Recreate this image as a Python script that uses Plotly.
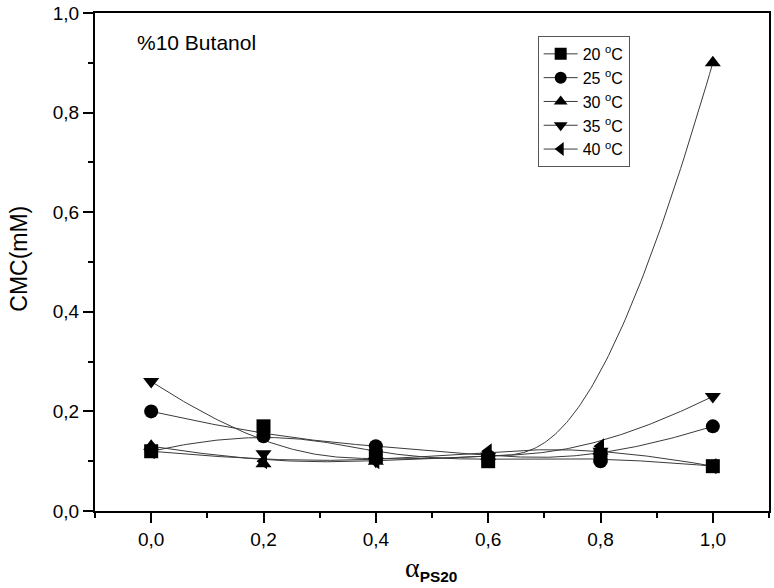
import numpy as np
import plotly.graph_objects as go

alpha = [0.0, 0.2, 0.4, 0.6, 0.8, 1.0]
cmc_20 = [0.12, 0.17, 0.11, 0.10, 0.11, 0.09]
cmc_25 = [0.20, 0.15, 0.13, 0.11, 0.10, 0.17]
cmc_30 = [0.13, 0.095, 0.10, 0.11, 0.12, 0.90]
cmc_35 = [0.26, 0.115, 0.10, 0.11, 0.12, 0.23]
cmc_40 = [0.12, 0.10, 0.10, 0.12, 0.13, 0.09]

series_names = ["20 <sup>o</sup>C", "25 <sup>o</sup>C", "30 <sup>o</sup>C", "35 <sup>o</sup>C", "40 <sup>o</sup>C"]
series_values = [cmc_20, cmc_25, cmc_30, cmc_35, cmc_40]
symbols = ["square", "circle", "triangle-up", "triangle-down", "triangle-left"]

xtick_vals = [0.0, 0.2, 0.4, 0.6, 0.8, 1.0]
xtick_text = ["0,0", "0,2", "0,4", "0,6", "0,8", "1,0"]
ytick_vals = [0.0, 0.2, 0.4, 0.6, 0.8, 1.0]
ytick_text = ["0,0", "0,2", "0,4", "0,6", "0,8", "1,0"]


def bspline(xs, ys, k=3, n_eval=300):
    """Clamped B-spline (approximating) curve with the data as control points, like Origin's B-spline connect."""
    P = np.column_stack([xs, ys]).astype(float)
    n = len(P)
    inner = list(range(1, n - k))
    knots = np.array([0] * (k + 1) + inner + [n - k] * (k + 1), dtype=float)
    ts = np.linspace(0, n - k, n_eval)

    def N(i, p, t):
        if p == 0:
            if knots[i] <= t < knots[i + 1] or (t == knots[-1] and knots[i] < t <= knots[i + 1]):
                return 1.0
            return 0.0
        a = 0.0
        d1 = knots[i + p] - knots[i]
        if d1 > 0:
            a = (t - knots[i]) / d1 * N(i, p - 1, t)
        b = 0.0
        d2 = knots[i + p + 1] - knots[i + 1]
        if d2 > 0:
            b = (knots[i + p + 1] - t) / d2 * N(i + 1, p - 1, t)
        return a + b

    out = np.array([np.array([N(i, k, t) for i in range(n)]) @ P for t in ts])
    return out[:, 0], out[:, 1]


fig = go.Figure()
for name, vals, sym in zip(series_names, series_values, symbols):
    cx, cy = bspline(alpha, vals)
    fig.add_trace(go.Scatter(x=cx, y=cy, mode="lines", line=dict(color="#3a3a3a", width=1),
                             showlegend=False, hoverinfo="skip"))
for name, vals, sym in zip(series_names, series_values, symbols):
    fig.add_trace(go.Scatter(x=alpha, y=vals, mode="markers",
                             marker=dict(symbol=sym, size=14, color="black"),
                             showlegend=False))
for name, vals, sym in zip(series_names, series_values, symbols):
    fig.add_trace(go.Scatter(x=[None], y=[None], mode="lines+markers", name=name,
                             line=dict(color="#3a3a3a", width=1),
                             marker=dict(symbol=sym, size=12, color="black")))

axis_common = dict(showline=True, linecolor="black", linewidth=2, mirror=True,
                   ticks="outside", ticklen=10, tickwidth=2, tickcolor="black",
                   showgrid=False, zeroline=False,
                   tickfont=dict(family="Liberation Sans, Arial", size=19, color="black"))

fig.update_xaxes(range=[-0.1, 1.1], tickvals=xtick_vals, ticktext=xtick_text,
                 minor=dict(ticks="outside", ticklen=5, tickwidth=2, tickcolor="black", dtick=0.1, tick0=0.1, showgrid=False),
                 **axis_common)
fig.update_yaxes(range=[0, 1.0], tickvals=ytick_vals, ticktext=ytick_text,
                 minor=dict(ticks="outside", ticklen=5, tickwidth=2, tickcolor="black", dtick=0.1, tick0=0.1, showgrid=False),
                 **axis_common)

fig.update_layout(
    width=774, height=588,
    margin=dict(l=95, r=3, t=12, b=77),
    plot_bgcolor="white", paper_bgcolor="white",
    font=dict(family="Liberation Sans, Arial", color="black"),
    legend=dict(x=(539 - 95) / 676, y=(511 - 35) / 499, xanchor="left", yanchor="top",
                bordercolor="#555", borderwidth=1, bgcolor="white",
                font=dict(family="Liberation Sans, Arial", size=16, color="black"),
                itemwidth=34, tracegroupgap=0),
    annotations=[
        dict(text="%10 Butanol", xref="paper", yref="paper", x=(135 - 95) / 676, y=(511 - 42) / 499,
             xanchor="left", yanchor="middle", showarrow=False,
             font=dict(family="Liberation Sans, Arial", size=21, color="black")),
        dict(text="CMC(mM)", xref="paper", yref="paper", x=(18 - 95) / 676, y=(511 - 258) / 499,
             xanchor="center", yanchor="middle", showarrow=False, textangle=-90,
             font=dict(family="Liberation Sans, Arial", size=23, color="black")),
        dict(text="<span style='font-family:Liberation Serif;font-size:28px'>α</span><sub><b>PS20</b></sub>",
             xref="paper", yref="paper", x=(432 - 95) / 676, y=(511 - 569) / 499,
             xanchor="center", yanchor="middle", showarrow=False,
             font=dict(family="Liberation Sans, Arial", size=22, color="black")),
    ],
)

fig.write_html("out.html", config={"displayModeBar": False},
               post_script="document.body.style.margin='0';")
